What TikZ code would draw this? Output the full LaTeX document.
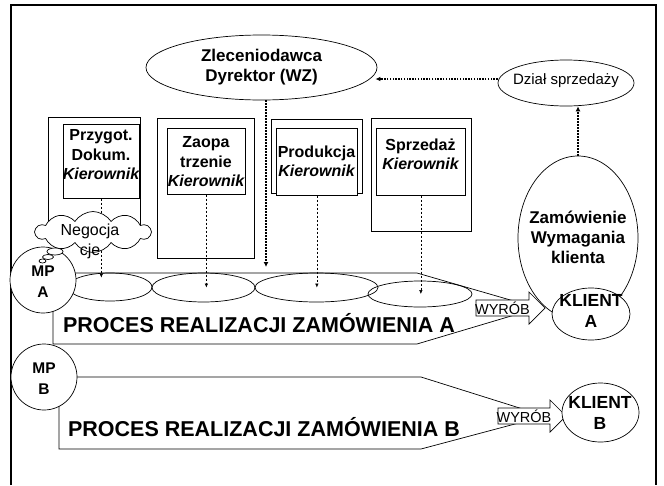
\documentclass[tikz,border=0pt]{standalone}
\usepackage{fontspec}
\setmainfont{Liberation Sans}
\usetikzlibrary{shapes.geometric,shapes.symbols,arrows.meta,calc}
\newcommand\myfs[2]{\fontsize{#1}{#2}\selectfont}
\begin{document}
\begin{tikzpicture}[x=1pt,y=-1pt,line width=0.7pt,
  ell/.style={draw,ellipse,inner sep=0pt},
  wfill/.style={fill=white},
  txt/.style={align=center,inner sep=0pt},
  bigb/.style={font=\myfs{17}{20}\bfseries},
  dept/.style={font=\myfs{16}{19.5}\bfseries,align=center,inner sep=0pt},
  boxn/.style={draw,rectangle,inner sep=0pt,anchor=north west},
  dasharrow/.style={dash pattern=on 2pt off 2pt,line width=0.5pt,-{Latex[length=4pt,width=3.5pt]}},
  dotarrow/.style={dash pattern=on 1.7pt off 1.3pt,line width=2pt,-{Latex[length=5pt,width=5pt]}},
  mp/.style={draw,circle,fill=white,inner sep=0pt,minimum size=66pt},
  mptxt/.style={font=\myfs{15.5}{21}\bfseries,align=center,inner sep=0pt},
  proctxt/.style={font=\myfs{21.5}{24}\bfseries,inner sep=0pt},
  wyrtxt/.style={font=\myfs{14.5}{15},inner sep=0pt},
]
\useasboundingbox (0,0) rectangle (664,485);
% frame
\draw[line width=2.5pt] (11,485) -- (11,5) -- (656,5) -- (656,485);

% department boxes
\node[boxn,minimum width=92pt,minimum height=115pt] (out1) at (48,117) {};
\node[boxn,wfill,minimum width=76pt,minimum height=74pt] (in1) at (63,124) {};
\node[dept] (t1) at (101,155) {Przygot.\\Dokum.\\{\itshape Kierownik}};

\node[boxn,minimum width=97pt,minimum height=140pt] (out2) at (157,118) {};
\node[boxn,wfill,minimum width=78pt,minimum height=66pt] (in2) at (167,128) {};
\node[dept] (t2) at (206,162) {Zaopa\\trzenie\\{\itshape Kierownik}};

\node[boxn,minimum width=91pt,minimum height=74pt] (out3) at (271,119) {};
\node[boxn,wfill,minimum width=81pt,minimum height=67pt] (in3) at (276,128) {};
\node[dept] (t3) at (316.5,161.5) {Produkcja\\{\itshape Kierownik}};

\node[boxn,minimum width=100pt,minimum height=113pt] (out4) at (371,118) {};
\node[boxn,wfill,minimum width=89pt,minimum height=67pt] (in4) at (376,128) {};
\node[dept] (t4) at (420.5,154.5) {Sprzedaż\\{\itshape Kierownik}};

% top ellipses
\node[ell,minimum width=231pt,minimum height=65pt] (zlec) at (261.5,67.5) {};
\node[txt,bigb] (zlectxt) at (zlec.center) {Zleceniodawca\\Dyrektor (WZ)};
\node[ell,minimum width=136pt,minimum height=46pt] (dzial) at (566,83) {};
\node[txt,font=\myfs{15}{18}] (dzialtxt) at (566,81) {Dział sprzedaży};
\draw[dotarrow,line width=1.5pt,dash pattern=on 1.5pt off 1.3pt,-{Latex[length=5pt,width=4.5pt]}] ($(dzial.west)+(0,-4)$) -- ($(zlec.east)+(-2,11.5)$);

% process A
\coordinate (pA1) at (53,273);
\coordinate (pA2) at (417,273);
\coordinate (pAtip) at (538,308);
\coordinate (pA3) at (417,344);
\coordinate (pA4) at (53,344);
\draw (pA1) -- (pA2) -- (pAtip) -- (pA3) -- (pA4) -- cycle;
\node[ell,minimum width=84pt,minimum height=28pt] (e1) at (110,287) {};
\node[ell,minimum width=103pt,minimum height=29pt] (e2) at (203.5,287.5) {};
\node[ell,minimum width=123pt,minimum height=29pt] (e3) at (316.5,287.5) {};
\node[ell,minimum width=104pt,minimum height=26pt] (e4) at (420,294) {};

\draw[dasharrow] (in1.south) -- ($(in1.south |- e1.north)+(0,5)$);
\draw[dasharrow] (in2.south) -- (in2.south |- e2.center);
\draw[dasharrow] (in3.south) -- (in3.south |- e3.center);
\draw[dasharrow] (in4.south) -- (in4.south |- e4.center);

\coordinate (zdown) at (266,267);
\draw[dotarrow] ($(zlec.south)+(4.5,0)$) -- (zdown);

\node[mp] (mpA) at (43,280) {};
\node[mptxt] (mpAtxt) at (43,281.5) {MP\\A};

% cloud
\node[cloud,cloud puffs=10,cloud puff arc=115,aspect=2.8,draw,fill=white,inner sep=0pt,minimum width=115pt,minimum height=41pt] (neg) at (93,232) {};
\node[draw,ellipse,fill=white,inner sep=0pt,minimum width=16pt,minimum height=7pt] (b1) at (55,251.5) {};
\node[draw,ellipse,fill=white,inner sep=0pt,minimum width=11pt,minimum height=5pt] (b2) at (48,257) {};
\node[draw,ellipse,fill=white,inner sep=0pt,minimum width=7pt,minimum height=4pt] (b3) at (42.5,261) {};
\node[txt,font=\myfs{16}{20}] (negtxt) at (90,241) {Negocja\\cje};

% process B
\coordinate (pB1) at (59,377);
\coordinate (pB2) at (421,377);
\coordinate (pBtip) at (545,416);
\coordinate (pB3) at (421,449);
\coordinate (pB4) at (59,449);
\draw (pB1) -- (pB2) -- (pBtip) -- (pB3) -- (pB4) -- cycle;
\node[mp] (mpB) at (44,377) {};
\node[mptxt] (mpBtxt) at (44,378.5) {MP\\B};

\node[proctxt] (procA) at (259,323) {PROCES REALIZACJI ZAMÓWIENIA A};
\node[proctxt] (procB) at (264,427) {PROCES REALIZACJI ZAMÓWIENIA B};

% client side
\node[ell,minimum width=120pt,minimum height=164pt] (zamow) at (578,238) {};
\node[txt,bigb] (zamowtxt) at (578,237) {Zamówienie\\Wymagania\\klienta};
\draw[dotarrow] (zamow.north) -- (zamow.north |- dzial.south);

\draw[fill=white] (476,300) -- (529,300) -- (529,292) -- (545,308) -- (529,324) -- (529,316) -- (476,316) -- cycle;
\node[wyrtxt] (wA) at (502.5,308.5) {WYRÓB};
\draw[fill=white] (498,408) -- (550,408) -- (550,400) -- (566,416) -- (550,432) -- (550,424) -- (498,424) -- cycle;
\node[wyrtxt] (wB) at (524,416.5) {WYRÓB};

\node[ell,fill=white,minimum width=78pt,minimum height=52pt] (klA) at (591,314) {};
\node[txt,font=\myfs{17.5}{21}\bfseries] (klAtxt) at (591,311) {KLIENT\\A};
\node[ell,fill=white,minimum width=77pt,minimum height=59pt] (klB) at (600.5,412.5) {};
\node[txt,font=\myfs{17.5}{21}\bfseries] (klBtxt) at (600,413) {KLIENT\\B};
\end{tikzpicture}
\end{document}
